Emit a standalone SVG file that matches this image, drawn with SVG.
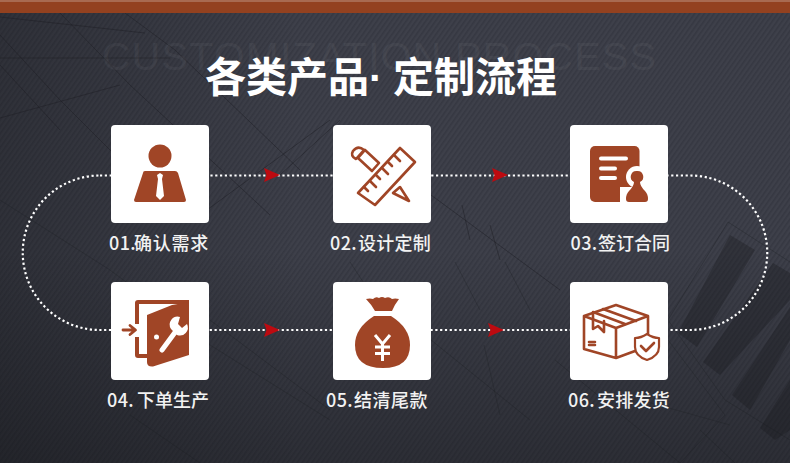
<svg xmlns="http://www.w3.org/2000/svg" width="790" height="463" viewBox="0 0 790 463">
<style>
.card{fill:#fff}
.ic{fill:#a04526}
.ics{fill:none;stroke:#a04526;stroke-width:2.600;stroke-linejoin:round;stroke-linecap:round}
.w{fill:#fff}
.lab{font-family:"Noto Sans CJK SC","Noto Sans",sans-serif;font-size:18px;font-weight:500;fill:#f2f2f2;letter-spacing:.4px}
.bp{fill:none;stroke:#1d1e23;stroke-width:.8;opacity:.6}
.bp2{fill:none;stroke:#1d1e23;stroke-width:.8;opacity:.4}
</style>
<defs>
<pattern id="hatch" width="4" height="4" patternUnits="userSpaceOnUse" patternTransform="rotate(-55)">
<rect width="4" height="4" fill="#3e404a"/><rect width="4" height="1.600" fill="#363842"/>
</pattern>
<linearGradient id="shadeL" x1="0" y1="0" x2="1" y2="0"><stop offset="0" stop-color="#101114" stop-opacity=".32"/><stop offset="1" stop-color="#101114" stop-opacity="0"/></linearGradient>
<linearGradient id="shadeB" x1="0" y1="0" x2="0" y2="1"><stop offset="0" stop-color="#101114" stop-opacity="0"/><stop offset="1" stop-color="#101114" stop-opacity=".38"/></linearGradient>
<polygon id="arrow" points="0,-7 16,0 0,7 2.500,0" fill="#bd0a10"/>
</defs>

<g id="background">
<rect width="790" height="463" fill="url(#hatch)"/>
<rect y="13" width="300" height="450" fill="url(#shadeL)"/>
<rect y="250" width="790" height="213" fill="url(#shadeB)"/>
<g fill="#17181c" opacity=".33">
<polygon points="730,235 755,250 697,347 678,333"/>
<polygon points="773,263 790,273 790,300 720,375 703,362"/>
<polygon points="790,307 790,340 750,410 732,395"/>
<polygon points="790,380 790,430 775,440 760,428"/>
</g>
<path class="bp" d="M0,17 L145,33 M0,58 L170,58 M0,118 L120,85 M125,13 L175,50 L300,170 M0,35 L60,100 L150,190 M60,13 L130,85 L270,215 M0,65 L60,130"/>
<path class="bp" d="M200,215 L330,120 M280,175 L340,120 M431,195 L560,290 M462,205 L470,240 M490,225 L500,260"/>
<path class="bp2" d="M0,200 L110,270 L210,345 L330,420 M210,320 L330,410 M431,340 L530,420 M484,345 L500,415 M350,262 L375,300 M455,262 L480,310 M505,262 L530,310 M130,415 L200,463 M555,360 L680,463"/>
<path class="bp2" d="M728,222 L790,262 M728,222 L668,320 L725,400 L790,440 M668,340 L725,415 L680,463 M640,400 L730,425 M700,430 L735,463"/>
<text x="102" y="70" font-family="'Liberation Sans',sans-serif" font-size="39" letter-spacing="1.650" fill="#ffffff" opacity=".04">CUSTOMIZATION PROCESS</text>
</g>

<rect id="topbar" width="790" height="13" fill="#93411f"/>
<rect y="0" width="790" height="2" fill="#a86a50"/>

<text id="title" y="92" font-family="'Noto Sans CJK SC',sans-serif" font-size="41" font-weight="700" fill="#ffffff"><tspan x="205">各类产品</tspan><tspan x="369" font-family="'Liberation Sans',sans-serif">·</tspan><tspan x="393">定制流程</tspan></text>

<g id="connectors">
<path d="M100,175.500 H690 A77.250,77.250 0 0 1 690,330 H100 A77.250,77.250 0 0 1 100,175.500 Z" fill="none" stroke="#fff" stroke-width="2.200" stroke-dasharray="2.200 2.600"/>
<use href="#arrow" x="264" y="175"/>
<use href="#arrow" x="492" y="175"/>
<use href="#arrow" x="264" y="330"/>
<use href="#arrow" x="488" y="330"/>
</g>

<g id="node1">
<rect class="card" x="111" y="125" width="98" height="98" rx="4"/>
<circle class="ic" cx="160" cy="156" r="11.500"/>
<path class="ic" d="M145,171 H175 Q177,171 178,173 L186,200 Q186,202 184,202 H136 Q134,202 134,200 L143,173 Q143,171 145,171Z"/>
<path class="w" d="M157,175 L160,173 L163,175 L162,179 L164,196 L160,200 L156,196 L158,179Z"/>
<text class="lab" y="250"><tspan x="109">01.</tspan><tspan x="134" letter-spacing=".75">确认需求</tspan></text>
</g>

<g id="node2">
<rect class="card" x="333" y="125" width="98" height="98" rx="4"/>
<path class="ics" d="M358,193 L400,148 L415,162 L375,205Z"/>
<path class="ics" d="M364,187 L368,191 M370,181 L376,187 M376,175 L380,179 M382,168 L388,174 M388,162 L392,166 M394,155 L400,161"/>
<path class="ics" d="M353,151 Q358,145 364,150 L356,159 Q350,156 353,151Z M358,158 L365,150 L379,163 L372,171Z"/>
<path class="ics" d="M400,187 L393,193 L409,201Z"/>
<text class="lab" y="250"><tspan x="330">02.</tspan><tspan x="358" letter-spacing=".25">设计定制</tspan></text>
</g>

<g id="node3">
<rect class="card" x="570" y="125" width="98" height="98" rx="4"/>
<rect class="ic" x="590" y="146" width="49.500" height="56" rx="5"/>
<path d="M601,158.500 H626 M601,168.500 H615 M601,178 H615" stroke="#fff" stroke-width="4" stroke-linecap="round" fill="none"/>
<circle class="w" cx="637" cy="177" r="11"/>
<rect class="w" x="620" y="187" width="32" height="18"/>
<path class="ic" d="M637,171 A5.800,5.800 0 0 1 640,182 Q640,186 645,191 Q648,194 648,199 Q648,202 645,202 H629 Q626,202 626,199 Q626,194 629,191 Q634,186 634,182 A5.800,5.800 0 0 1 637,171Z"/>
<text class="lab" y="250"><tspan x="570.500">03.</tspan><tspan x="598" letter-spacing="0">签订合同</tspan></text>
</g>

<g id="node4">
<rect class="card" x="111" y="282" width="98" height="98" rx="4"/>
<path class="ic" d="M138,300 H189 V304 L172,304 H139 V324 H135 V303 Q135,300 138,300Z M135,337 H139 V354 H147 V358 H138 Q135,358 135,355Z"/>
<path class="ic" d="M147,315 L172,305 L189,302 V355 L153,366.500 Q147,367 147,362Z"/>
<path d="M123,330 H135 M130,325.500 L135.500,330 L130,334.500" fill="none" stroke="#a04526" stroke-width="2.800" stroke-linecap="round" stroke-linejoin="round"/>
<circle class="w" cx="156.500" cy="337" r="2.500"/>
<path d="M162,350 L176,331" stroke="#fff" stroke-width="5" stroke-linecap="round"/>
<path class="w" d="M180,317 A8,8 0 0 0 171,329 L177,335 A8,8 0 0 0 187,324 L182,328 L178,324Z"/>
<text class="lab" y="407"><tspan x="107">04.</tspan><tspan x="137" letter-spacing="0">下单生产</tspan></text>
</g>

<g id="node5">
<rect class="card" x="333" y="282" width="98" height="98" rx="4"/>
<path class="ic" d="M366,299 Q370,298 373,299 Q376,296 379,298 Q382,296 385,298 Q389,296 392,299 Q395,298 399,299 Q395,304 392,311 H375 Q371,304 366,299Z"/>
<path class="ic" d="M374,316 H391 Q410,328 410,345 Q410,368 383,368 Q355,368 355,345 Q355,328 374,316Z"/>
<path d="M375,335 L382.500,344 L390,335 M375,347 H390 M375,353.500 H390 M382.500,344 V361" fill="none" stroke="#fff" stroke-width="3"/>
<text class="lab" y="407"><tspan x="326">05.</tspan><tspan x="354" letter-spacing=".5">结清尾款</tspan></text>
</g>

<g id="node6">
<rect class="card" x="570" y="282" width="98" height="98" rx="4"/>
<path class="ics" d="M616,305 L584,316 L616,328 L648,316Z M584,316 V349 L616,358 L635,351 M616,328 V358 M648,316 V334"/>
<path class="ics" d="M593,312 L625,324 M603,309 L636,321 M593,312 V329 L598,326 L604,332 V321 M589,342 H595 M589,345 H595"/>
<path d="M647,334 Q653,338 659,338 V347 Q659,356 647,360 Q635,356 635,347 V338 Q641,338 647,334Z" fill="#fff" stroke="#a04526" stroke-width="2.200" stroke-linejoin="round"/>
<path class="ics" d="M641,346 L646,351 L654,343"/>
<text class="lab" y="407"><tspan x="568">06.</tspan><tspan x="597" letter-spacing=".25">安排发货</tspan></text>
</g>
</svg>
